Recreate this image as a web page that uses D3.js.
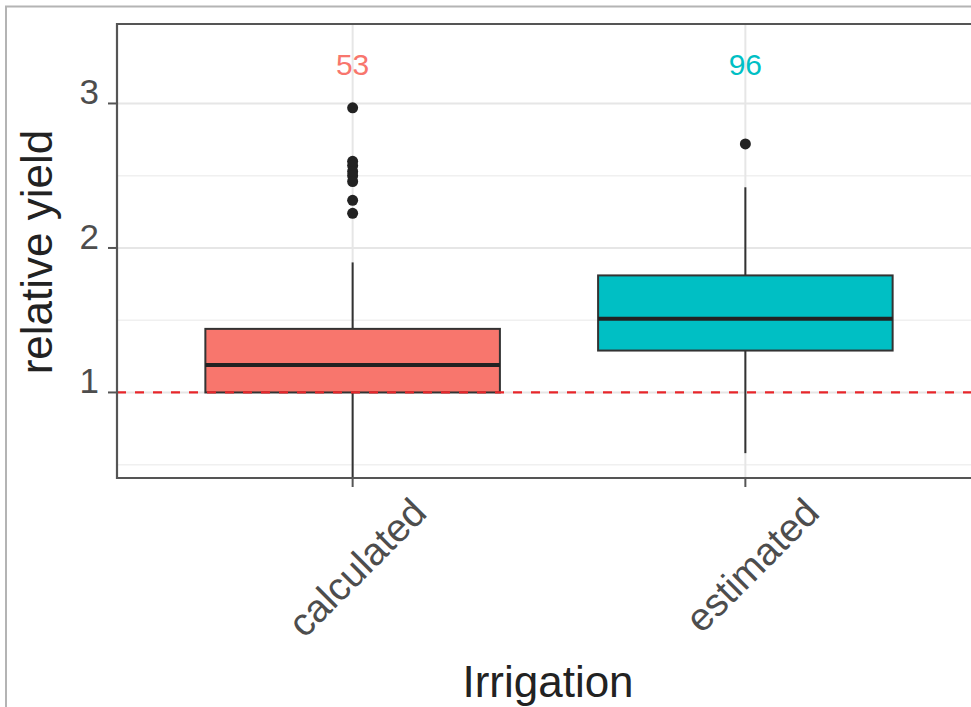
<!DOCTYPE html>
<html>
<head>
<meta charset="utf-8">
<script src="https://cdn.jsdelivr.net/npm/d3@7"></script>
<style>
  body { margin:0; background:#fff; }
  text { font-family: "Liberation Sans", Arial, sans-serif; }
</style>
</head>
<body>
<svg id="chart" width="971" height="707"></svg>
<script>
// box stats
var groups    = ["calculated", "estimated"];
var boxColors = ["#F8766D", "#00BFC4"];
var q1        = [1.00, 1.29];
var medians   = [1.19, 1.51];
var q3        = [1.44, 1.81];
var whiskLow  = [0.38, 0.58];
var whiskHigh = [1.90, 2.42];
var outliers  = [
  [2.97, 2.60, 2.57, 2.53, 2.50, 2.46, 2.33, 2.24],
  [2.72]
];
var counts    = [53, 96];
var countY    = 3.27;
var yTicks    = [1, 2, 3];
var yMinor    = [0.5, 1.5, 2.5];
var refLine   = 1;

var svg = d3.select('#chart');

// screenshot frame
svg.append('path')
  .attr('d', 'M6,707 V6.5 H971')
  .attr('fill', 'none').attr('stroke', '#b4b4b4').attr('stroke-width', 2);

var panel = {left:117, top:24, right:981, bottom:478};

var y = d3.scaleLinear().domain([0.408, 3.55]).range([panel.bottom, panel.top]);
// discrete x: 0.6 step expansion each side, box = 0.75 step (ggplot style)
var x = d3.scalePoint().domain(groups)
  .range([panel.left, panel.right]).padding(0.6);
function cx(i){ return x(groups[i]); }
var boxW = x.step() * 0.75;

svg.append('clipPath').attr('id','clip')
  .append('rect').attr('x', panel.left).attr('y', panel.top)
  .attr('width', panel.right - panel.left).attr('height', panel.bottom - panel.top);

var g = svg.append('g').attr('clip-path', 'url(#clip)');

// grid
g.selectAll('.minor').data(yMinor).enter().append('line')
  .attr('x1', panel.left).attr('x2', panel.right)
  .attr('y1', function(d){ return y(d); }).attr('y2', function(d){ return y(d); })
  .attr('stroke', '#f0f0f0').attr('stroke-width', 1.5);
g.selectAll('.major').data(yTicks).enter().append('line')
  .attr('x1', panel.left).attr('x2', panel.right)
  .attr('y1', function(d){ return y(d); }).attr('y2', function(d){ return y(d); })
  .attr('stroke', '#e6e6e6').attr('stroke-width', 2);
g.selectAll('.vgrid').data(groups).enter().append('line')
  .attr('x1', function(d,i){ return cx(i); }).attr('x2', function(d,i){ return cx(i); })
  .attr('y1', panel.top).attr('y2', panel.bottom)
  .attr('stroke', '#e6e6e6').attr('stroke-width', 2);

// boxes
var boxes = g.selectAll('.box').data(groups).enter().append('g').attr('class', 'box');

boxes.append('line')
  .attr('x1', function(d,i){ return cx(i); }).attr('x2', function(d,i){ return cx(i); })
  .attr('y1', function(d,i){ return y(whiskHigh[i]); }).attr('y2', function(d,i){ return y(q3[i]); })
  .attr('stroke', '#333').attr('stroke-width', 2);
boxes.append('line')
  .attr('x1', function(d,i){ return cx(i); }).attr('x2', function(d,i){ return cx(i); })
  .attr('y1', function(d,i){ return y(q1[i]); }).attr('y2', function(d,i){ return y(whiskLow[i]); })
  .attr('stroke', '#333').attr('stroke-width', 2);

boxes.append('rect')
  .attr('x', function(d,i){ return cx(i) - boxW/2; })
  .attr('width', boxW)
  .attr('y', function(d,i){ return y(q3[i]); })
  .attr('height', function(d,i){ return y(q1[i]) - y(q3[i]); })
  .attr('fill', function(d,i){ return boxColors[i]; })
  .attr('stroke', '#333').attr('stroke-width', 2);

boxes.append('line')
  .attr('x1', function(d,i){ return cx(i) - boxW/2; }).attr('x2', function(d,i){ return cx(i) + boxW/2; })
  .attr('y1', function(d,i){ return y(medians[i]); }).attr('y2', function(d,i){ return y(medians[i]); })
  .attr('stroke', '#222').attr('stroke-width', 4);

boxes.each(function(d,i){
  d3.select(this).selectAll('circle').data(outliers[i]).enter().append('circle')
    .attr('cx', cx(i)).attr('cy', function(v){ return y(v); })
    .attr('r', 5.5).attr('fill', '#222');
});

// reference line
g.append('line')
  .attr('x1', panel.left).attr('x2', panel.right)
  .attr('y1', y(refLine)).attr('y2', y(refLine))
  .attr('stroke', '#e8262a').attr('stroke-width', 2.2)
  .attr('stroke-dasharray', '9,9');

// counts
g.selectAll('.count').data(counts).enter().append('text')
  .attr('x', function(d,i){ return cx(i); })
  .attr('y', y(countY) + 11)
  .attr('text-anchor', 'middle')
  .attr('font-size', 30)
  .attr('fill', function(d,i){ return boxColors[i]; })
  .text(function(d){ return d; });

// panel border (no right edge visible)
svg.append('path')
  .attr('d', 'M971,' + panel.top + ' H' + panel.left + ' V' + panel.bottom + ' H971')
  .attr('fill', 'none').attr('stroke', '#555').attr('stroke-width', 2.2);

// y axis
var yAxis = svg.append('g');
yAxis.selectAll('line').data(yTicks).enter().append('line')
  .attr('x1', panel.left - 9).attr('x2', panel.left)
  .attr('y1', function(d){ return y(d); }).attr('y2', function(d){ return y(d); })
  .attr('stroke', '#555').attr('stroke-width', 2);
yAxis.selectAll('text').data(yTicks).enter().append('text')
  .attr('x', 99).attr('y', function(d){ return y(d) + 1; })
  .attr('text-anchor', 'end')
  .attr('font-size', 35).attr('fill', '#4d4d4d')
  .text(function(d){ return d; });

// x axis
var xAxis = svg.append('g');
xAxis.selectAll('line').data(groups).enter().append('line')
  .attr('x1', function(d,i){ return cx(i); }).attr('x2', function(d,i){ return cx(i); })
  .attr('y1', panel.bottom).attr('y2', panel.bottom + 9)
  .attr('stroke', '#555').attr('stroke-width', 2);
xAxis.selectAll('text').data(groups).enter().append('text')
  .attr('transform', function(d,i){ return 'translate(' + (cx(i) + 76) + ',' + (panel.bottom + 37) + ') rotate(-45)'; })
  .attr('text-anchor', 'end')
  .attr('font-size', 39).attr('fill', '#4d4d4d')
  .text(function(d){ return d; });

// titles
svg.append('text')
  .attr('transform', 'translate(52,252) rotate(-90)')
  .attr('text-anchor', 'middle')
  .attr('font-size', 44).attr('fill', '#222')
  .text('relative yield');

svg.append('text')
  .attr('x', 548).attr('y', 697)
  .attr('text-anchor', 'middle')
  .attr('font-size', 44).attr('fill', '#222')
  .text('Irrigation');
</script>
</body>
</html>
